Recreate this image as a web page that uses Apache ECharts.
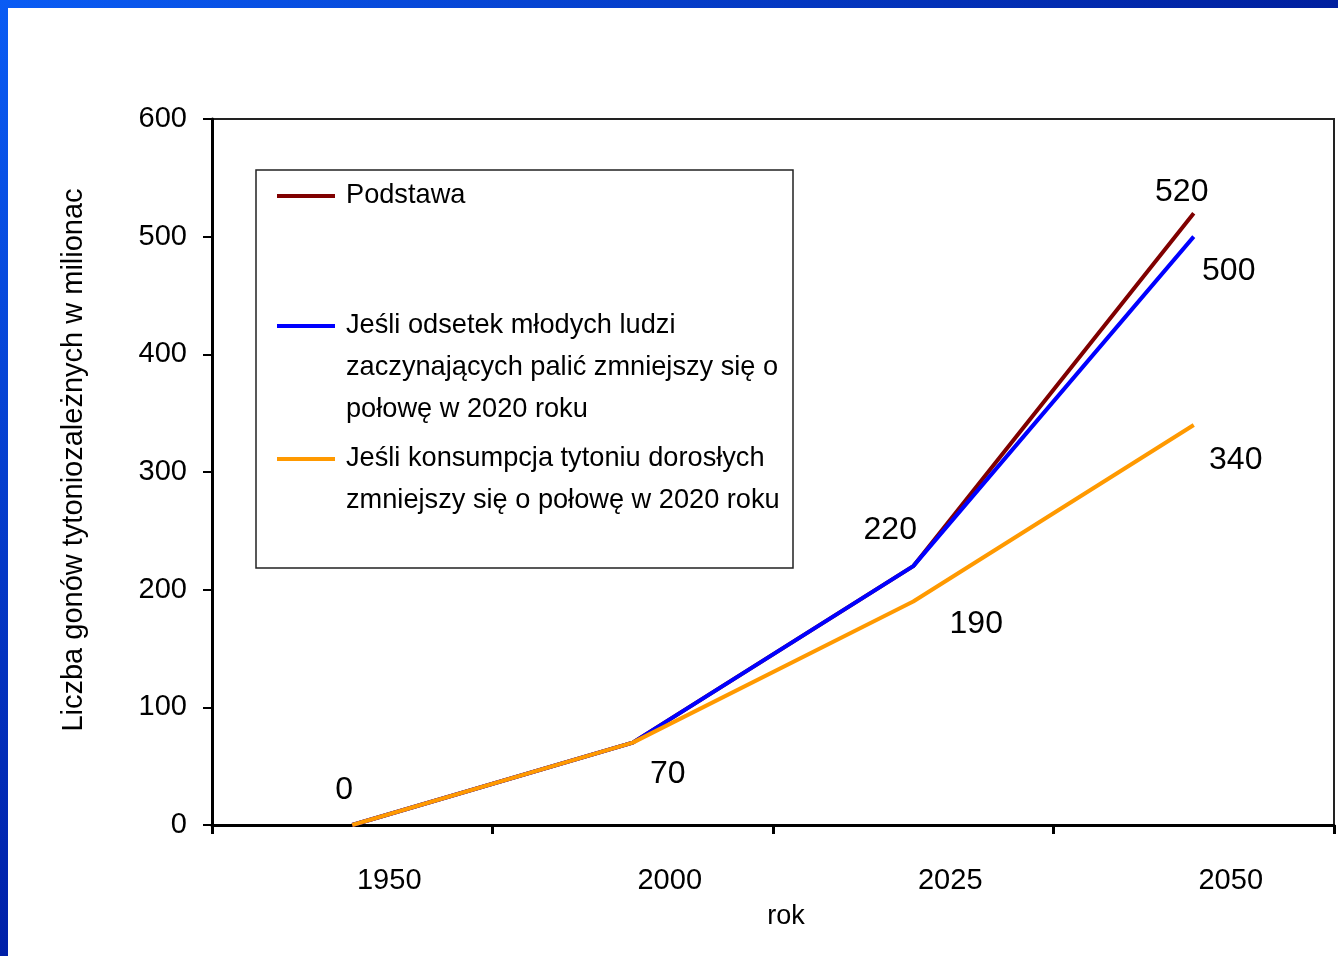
<!DOCTYPE html>
<html>
<head>
<meta charset="utf-8">
<script src="https://cdn.jsdelivr.net/npm/echarts@6/dist/echarts.min.js"></script>
<style>
  html, body { margin: 0; padding: 0; background: #ffffff; }
  #chart { width: 1338px; height: 956px; }
</style>
</head>
<body>
<div id="chart"></div>
<script>
// Years on the category axis
const years = ['1950', '2000', '2025', '2050'];

// Tobacco-dependent people, millions
const podstawa = [0, 70, 220, 520];
const mlodziPolowa = [0, 70, 220, 500];
const dorosliPolowa = [0, 70, 190, 340];

// Y-axis range
const yMin = 0;
const yMax = 600;
const yStep = 100;

const seriesNames = [
  'Podstawa',
  'Jeśli odsetek młodych ludzi zaczynających palić zmniejszy się o połowę w 2020 roku',
  'Jeśli konsumpcja tytoniu dorosłych zmniejszy się o połowę w 2020 roku'
];
const legendLines = [
  ['Podstawa'],
  ['Jeśli odsetek młodych ludzi', 'zaczynających palić zmniejszy się o', 'połowę w 2020 roku'],
  ['Jeśli konsumpcja tytoniu dorosłych', 'zmniejszy się o połowę w 2020 roku']
];

const TEXT_FONT = '"Liberation Sans", Arial, sans-serif';

// Value labels: which points carry one, and where the label sits relative to the point
const labelPlacement = [
  { 0: [-8, -35], 2: [-23, -36], 3: [-12, -21] },
  { 3: [35, 35] },
  { 1: [35, 32], 2: [63, 23], 3: [42, 35] }
];

function buildData(values, placement) {
  return values.map((v, i) => {
    const off = placement[i];
    if (!off) return { value: v };
    return {
      value: v,
      label: {
        show: true,
        position: 'inside',
        offset: off,
        formatter: '{c}',
        fontFamily: TEXT_FONT,
        fontSize: 32,
        color: '#000'
      }
    };
  });
}

const colors = ['#800000', '#0000ff', '#ff9900'];
const seriesValues = [podstawa, mlodziPolowa, dorosliPolowa];

const series = seriesValues.map((vals, k) => ({
  name: seriesNames[k],
  type: 'line',
  data: buildData(vals, labelPlacement[k]),
  symbol: 'circle',
  symbolSize: 0,
  itemStyle: { color: colors[k] },
  lineStyle: { color: colors[k], width: 4 },
  emphasis: { disabled: true },
  animation: false,
  z: 3 + k
}));

// Legend entries: icon centres near y = 196, 326, 459.
// Legend text is centred on its icon, so blank lines are prepended
// to bring the first text line level with the icon.
const legendTops = [175, 221, 396];
const legends = seriesNames.map((n, k) => {
  const lines = legendLines[k];
  const blanks = new Array(lines.length - 1).fill('');
  const text = blanks.concat(lines).join('\n');
  return {
    data: [n],
    orient: 'vertical',
    left: 277,
    top: legendTops[k],
    padding: 0,
    icon: 'rect',
    itemWidth: 58,
    itemHeight: 4,
    selectedMode: false,
    formatter: () => text,
    textStyle: {
      fontFamily: TEXT_FONT,
      fontSize: 27.2,
      lineHeight: 42,
      color: '#000',
      padding: [0, 0, 0, 6]
    }
  };
});

const chart = echarts.init(document.getElementById('chart'), null, { renderer: 'canvas' });

chart.setOption({
  backgroundColor: '#ffffff',
  animation: false,
  grid: {
    left: 212,
    right: 4,
    top: 119,
    bottom: 131,
    show: true,
    borderColor: '#222',
    borderWidth: 2,
    backgroundColor: 'transparent'
  },
  legend: legends,
  xAxis: {
    type: 'category',
    data: years,
    boundaryGap: true,
    name: 'rok',
    nameLocation: 'middle',
    nameGap: 78,
    nameTextStyle: { fontFamily: TEXT_FONT, fontSize: 27, color: '#000', padding: [0, 0, 0, 26] },
    axisLine: { lineStyle: { color: '#000', width: 3 } },
    axisTick: { show: true, length: 9, lineStyle: { color: '#000', width: 3 } },
    axisLabel: {
      fontFamily: TEXT_FONT,
      fontSize: 29,
      color: '#000',
      margin: 41,
      padding: [0, 0, 0, 74]
    },
    splitLine: { show: false }
  },
  yAxis: {
    type: 'value',
    min: yMin,
    max: yMax,
    interval: yStep,
    name: 'Liczba gonów tytoniozależnych w milionac',
    nameLocation: 'middle',
    nameGap: 124,
    nameTextStyle: { fontFamily: TEXT_FONT, fontSize: 29, color: '#000', padding: [0, 0, 0, 24] },
    axisLine: { show: true, lineStyle: { color: '#000', width: 3 } },
    axisTick: { show: true, length: 9, lineStyle: { color: '#000', width: 2 } },
    axisLabel: { fontFamily: TEXT_FONT, fontSize: 29, color: '#000', margin: 25 },
    splitLine: { show: false }
  },
  graphic: [
    // legend frame
    {
      type: 'rect',
      silent: true,
      z: 1,
      shape: { x: 256, y: 170, width: 537, height: 398 },
      style: { fill: '#fff', stroke: '#222', lineWidth: 1.5 }
    },
    // blue slide frame, top and left edges
    {
      type: 'rect',
      silent: true,
      shape: { x: 0, y: 0, width: 1338, height: 8 },
      style: {
        fill: new echarts.graphic.LinearGradient(0, 0, 1, 0, [
          { offset: 0, color: '#0a5cf4' },
          { offset: 1, color: '#001f9e' }
        ])
      }
    },
    {
      type: 'rect',
      silent: true,
      shape: { x: 0, y: 0, width: 8, height: 956 },
      style: {
        fill: new echarts.graphic.LinearGradient(0, 0, 0, 1, [
          { offset: 0, color: '#0a5cf4' },
          { offset: 1, color: '#0020a8' }
        ])
      }
    }
  ],
  series: series
});
</script>
</body>
</html>
